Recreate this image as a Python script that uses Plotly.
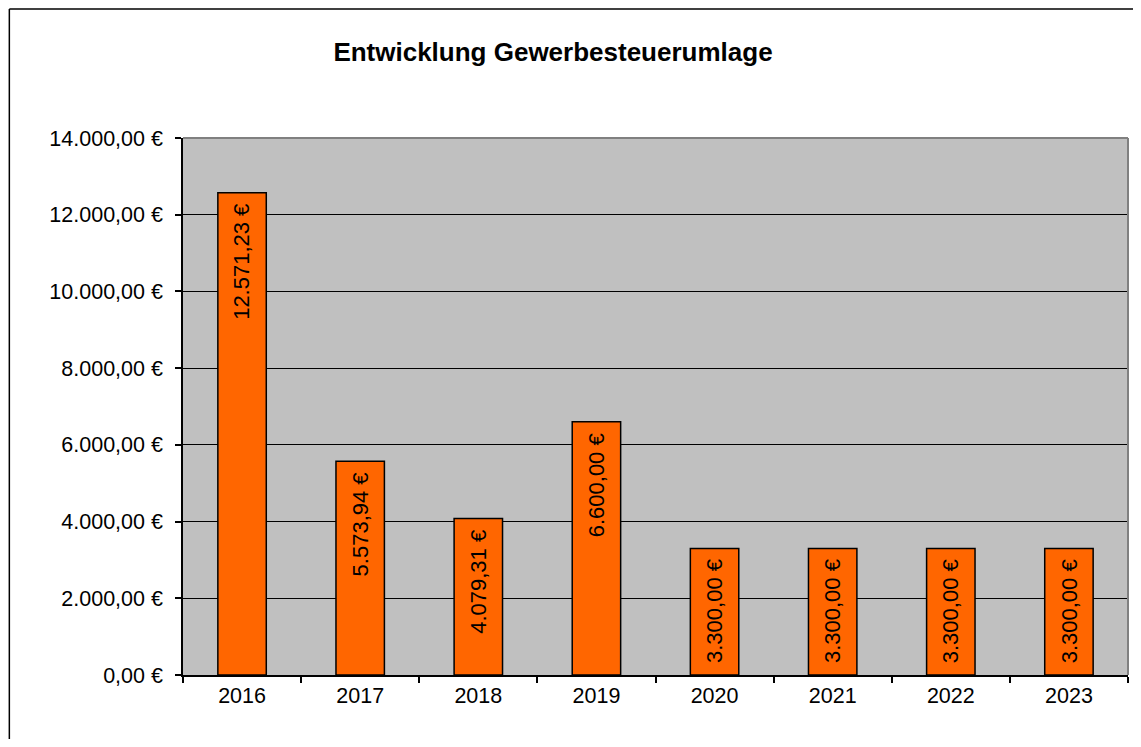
import plotly.graph_objects as go

years = ["2016", "2017", "2018", "2019", "2020", "2021", "2022", "2023"]
values = [12571.23, 5573.94, 4079.31, 6600.00, 3300.00, 3300.00, 3300.00, 3300.00]
y_ticks = [0, 2000, 4000, 6000, 8000, 10000, 12000, 14000]


def de_eur(v):
    s = f"{v:,.2f}"
    s = s.replace(",", "X").replace(".", ",").replace("X", ".")
    return s + " €"


labels = [de_eur(v) for v in values]
tick_text = [de_eur(v) for v in y_ticks]

FONT = "Arial, 'Liberation Sans', sans-serif"

# page body adds an 8px offset; figure sized to fit the window
W, H = 1133, 731
L, T, R, B = 174.5, 130, 13, 64

fig = go.Figure()
fig.add_trace(go.Bar(
    x=years, y=values,
    marker=dict(color="#FF6600", line=dict(color="black", width=1.5)),
    width=0.41,
    hoverinfo="x+y",
))

for i, (v, lab) in enumerate(zip(values, labels)):
    fig.add_annotation(x=i, y=v, xref="x", yref="y", text=lab, showarrow=False,
                       textangle=-90, xanchor="center", yanchor="top", yshift=-9,
                       font=dict(family=FONT, size=22, color="black"))

fig.update_layout(
    width=W, height=H,
    margin=dict(l=L, r=R, t=T, b=B, autoexpand=False),
    paper_bgcolor="white", plot_bgcolor="#C0C0C0",
    showlegend=False,
    font=dict(family=FONT, size=21.5, color="black"),
    title=dict(text="<b>Entwicklung Gewerbesteuerumlage</b>", x=545 / W, xref="container",
               xanchor="center", y=1 - 44 / H, yanchor="middle", yref="container",
               font=dict(family=FONT, size=26, color="black")),
    xaxis=dict(type="category", categoryarray=years, range=[-0.5, len(years) - 0.5],
               autorange=False, showline=True, linecolor="black", linewidth=1.5,
               ticks="outside", ticklen=6, tickcolor="black", tickwidth=1.5,
               tickson="boundaries", showgrid=False, tickangle=0,
               tickfont=dict(family=FONT, size=21.5, color="black")),
    yaxis=dict(range=[0, 14000], autorange=False, tickvals=y_ticks, ticktext=tick_text,
               showline=True, linecolor="black", linewidth=1.5,
               ticks="outside", ticklen=6, tickcolor="black", tickwidth=1.5,
               showgrid=True, gridcolor="black", gridwidth=1.3, zeroline=False,
               ticklabelstandoff=8,
               tickfont=dict(family=FONT, size=21.5, color="black")),
)

# grey frame of plot area (top and right)
fig.add_shape(type="line", xref="paper", yref="paper", x0=0, x1=1, y0=1, y1=1,
              line=dict(color="#808080", width=2), layer="above")
fig.add_shape(type="line", xref="paper", yref="paper", x0=1, x1=1, y0=0, y1=1,
              line=dict(color="#808080", width=2), layer="above")

# outer chart frame (left and top edges visible)
px_w = W - L - R
px_h = H - T - B
fx = (0.75 - L) / px_w
fy = (H - B - 1) / px_h
fig.add_shape(type="line", xref="paper", yref="paper", x0=fx, x1=2, y0=fy, y1=fy,
              line=dict(color="black", width=1.5))
fig.add_shape(type="line", xref="paper", yref="paper", x0=fx, x1=fx, y0=-1, y1=fy,
              line=dict(color="black", width=1.5))

fig.write_html("out.html")
